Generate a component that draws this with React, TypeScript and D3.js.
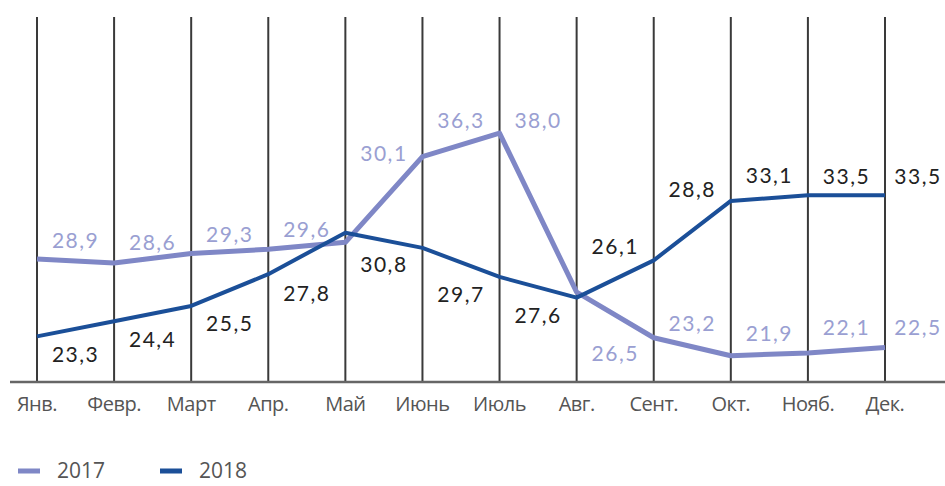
import React from "react";
import * as d3 from "d3";

const months = ["Янв.", "Февр.", "Март", "Апр.", "Май", "Июнь", "Июль", "Авг.", "Сент.", "Окт.", "Нояб.", "Дек."];
const values2017 = [28.9, 28.6, 29.3, 29.6, 30.1, 36.3, 38.0, 26.5, 23.2, 21.9, 22.1, 22.5];
const values2018 = [23.3, 24.4, 25.5, 27.8, 30.8, 29.7, 27.6, 26.1, 28.8, 33.1, 33.5, 33.5];
const seriesNames = ["2017", "2018"];

// label placement offsets (layout only)
const labelDy2017 = [-19, -22, -20, -21, -90, -37, -14, 60, -15, -23, -26, -21];
const labelDy2018 = [17, 17, 17, 18, 31, 46, 38, -52, -72, -26, -20, -20];

const W = 945;
const H = 486;
const C2017 = "#7f87c6";
const C2018 = "#1b4f98";
const L2017 = "#9a9fd2";

export default function App() {
  const x = d3.scalePoint<string>().domain(months).range([37, 885]);
  const y = d3.scaleLinear().domain([20, 46.4]).range([382, 17]);
  const line = d3
    .line<number>()
    .x((_, i) => x(months[i]) as number)
    .y((d) => y(d));
  const fmt = (v: number) => v.toFixed(1).replace(".", ",");
  const half = x.step() / 2;
  const lx = (i: number) => Math.min((x(months[i]) as number) + half, W - 27);
  const valFont = "Lato, 'Open Sans', sans-serif";
  const monthFont = "'Open Sans', sans-serif";

  return (
    <svg
      width={W}
      height={H}
      style={{ position: "absolute", left: 0, top: 0, background: "#fff" }}
    >
      {months.map((m) => (
        <line key={m} x1={x(m)} x2={x(m)} y1={y(46.4)} y2={y(20)} stroke="#3a3a3a" strokeWidth={2} />
      ))}
      <line x1={10} x2={W} y1={y(20)} y2={y(20)} stroke="#666" strokeWidth={2.5} />
      <path d={line(values2017) || ""} fill="none" stroke={C2017} strokeWidth={5} strokeLinejoin="round" />
      <path d={line(values2018) || ""} fill="none" stroke={C2018} strokeWidth={4} strokeLinejoin="round" />
      {values2017.map((v, i) => (
        <text
          key={"a" + i}
          x={lx(i)}
          y={y(v) + labelDy2017[i]}
          textAnchor="middle"
          dominantBaseline="central"
          fontFamily={valFont}
          fontSize={21}
          letterSpacing={1.5}
          fill={L2017}
        >
          {fmt(v)}
        </text>
      ))}
      {values2018.map((v, i) => (
        <text
          key={"b" + i}
          x={lx(i)}
          y={y(v) + labelDy2018[i]}
          textAnchor="middle"
          dominantBaseline="central"
          fontFamily={valFont}
          fontSize={21}
          letterSpacing={1.5}
          fill="#222"
        >
          {fmt(v)}
        </text>
      ))}
      {months.map((m) => (
        <text
          key={"m" + m}
          x={x(m)}
          y={403}
          textAnchor="middle"
          dominantBaseline="central"
          fontFamily={monthFont}
          fontSize={20}
          letterSpacing={-0.5}
          fill="#555"
        >
          {m}
        </text>
      ))}
      {seriesNames.map((s, i) => (
        <g key={s} transform={`translate(${18 + i * 142},471)`}>
          <rect x={0} y={-2.5} width={22} height={5} fill={i === 0 ? C2017 : C2018} />
          <text
            x={39}
            y={7}
            fontFamily={monthFont}
            fontSize={21}
            fill="#555"
          >
            {s}
          </text>
        </g>
      ))}
    </svg>
  );
}
